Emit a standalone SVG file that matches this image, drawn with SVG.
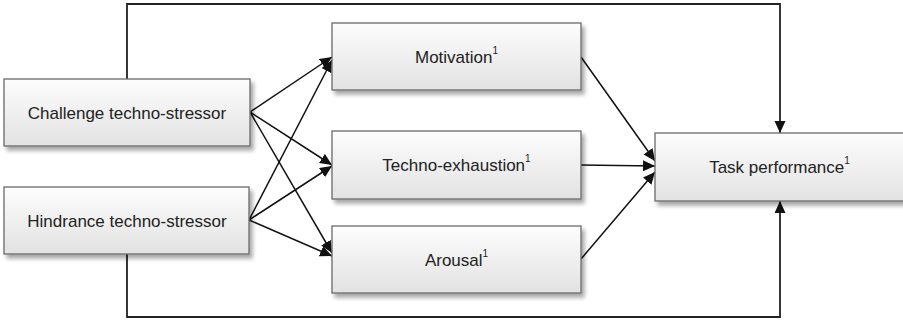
<svg xmlns="http://www.w3.org/2000/svg" width="903" height="322" viewBox="0 0 903 322">
  <defs>
    <linearGradient id="boxFill" x1="0" y1="0" x2="0" y2="1">
      <stop offset="0" stop-color="#fdfdfd"/>
      <stop offset="1" stop-color="#e2e2e2"/>
    </linearGradient>
    <filter id="shadow" x="-5%" y="-10%" width="115%" height="130%">
      <feGaussianBlur in="SourceAlpha" stdDeviation="2"/>
      <feOffset dx="3" dy="4" result="b"/>
      <feComponentTransfer><feFuncA type="linear" slope="0.35"/></feComponentTransfer>
      <feMerge><feMergeNode/><feMergeNode in="SourceGraphic"/></feMerge>
    </filter>
    <marker id="arrow" markerUnits="userSpaceOnUse" markerWidth="13" markerHeight="12" refX="12" refY="5.5" orient="auto">
      <path d="M0,0 L12,5.5 L0,11 z" fill="#111"/>
    </marker>
  </defs>
  <style>
    .box { fill: url(#boxFill); stroke: #6b6b6b; stroke-width: 1.3; filter: url(#shadow); }
    .label { font-family: "Liberation Sans", Arial, sans-serif; font-size: 17px; fill: #222; text-anchor: middle; }
    .sup { font-size: 10px; }
    .edge { fill: none; stroke: #111; stroke-width: 1.5; marker-end: url(#arrow); }
    .loop { fill: none; stroke: #222; stroke-width: 1.8; marker-end: url(#arrow); }
  </style>

  <g id="connectors">
    <path class="loop" d="M127,79 V4 H780 V133"/>
    <path class="loop" d="M127,254 V317 H780 V201"/>
    <line class="edge" x1="250" y1="112" x2="332" y2="57"/>
    <line class="edge" x1="250" y1="112" x2="332" y2="165"/>
    <line class="edge" x1="250" y1="112" x2="332" y2="253"/>
    <line class="edge" x1="249" y1="220" x2="332" y2="60"/>
    <line class="edge" x1="249" y1="220" x2="332" y2="166"/>
    <line class="edge" x1="249" y1="220" x2="332" y2="256"/>
    <line class="edge" x1="581" y1="57" x2="655" y2="161"/>
    <line class="edge" x1="581" y1="165" x2="655" y2="166"/>
    <line class="edge" x1="581" y1="259" x2="655" y2="172"/>
  </g>

  <g id="challenge">
    <rect class="box" x="4" y="79" width="246" height="67"/>
    <text class="label" x="127" y="118.5">Challenge techno-stressor</text>
  </g>
  <g id="hindrance">
    <rect class="box" x="4" y="187" width="245" height="67"/>
    <text class="label" x="127" y="226.5">Hindrance techno-stressor</text>
  </g>
  <g id="motivation">
    <rect class="box" x="332" y="23" width="249" height="67"/>
    <text class="label" x="456.5" y="62.5">Motivation<tspan class="sup" dy="-9">1</tspan></text>
  </g>
  <g id="exhaustion">
    <rect class="box" x="332" y="131" width="249" height="68"/>
    <text class="label" x="456.5" y="171">Techno-exhaustion<tspan class="sup" dy="-9">1</tspan></text>
  </g>
  <g id="arousal">
    <rect class="box" x="332" y="226" width="249" height="67"/>
    <text class="label" x="456.5" y="265.5">Arousal<tspan class="sup" dy="-9">1</tspan></text>
  </g>
  <g id="performance">
    <rect class="box" x="655" y="133" width="249" height="68"/>
    <text class="label" x="779.5" y="173">Task performance<tspan class="sup" dy="-9">1</tspan></text>
  </g>
</svg>
